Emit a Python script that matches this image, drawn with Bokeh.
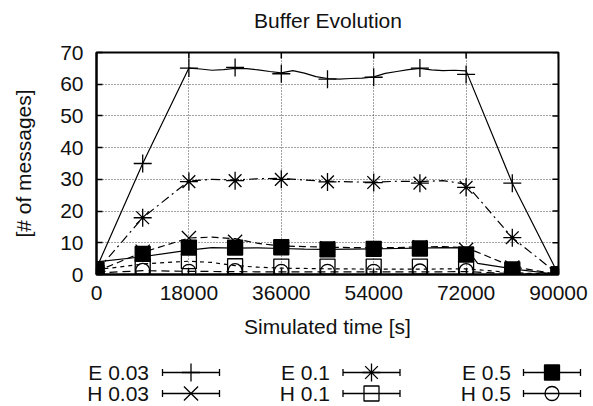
from bokeh.plotting import figure
from bokeh.models import Range1d, FixedTicker
from bokeh.layouts import column
from bokeh.embed import file_html
from bokeh.resources import INLINE
from bokeh.core.properties import value

FONT = "Liberation Sans"
TXT = "#111111"
FS = "21px"

# ---------------- data ----------------
TITLE = "Buffer Evolution"
X_LABEL = "Simulated time [s]"
Y_LABEL = "[# of messages]"
X_TICKS = [0, 18000, 36000, 54000, 72000, 90000]
Y_TICKS = [0, 10, 20, 30, 40, 50, 60, 70]

MARK_T = [0, 9000, 18000, 27000, 36000, 45000, 54000, 63000, 72000, 81000, 90000]

E003_MARK = [2.0, 35.0, 65.1, 65.3, 63.3, 61.6, 62.2, 65.1, 63.1, 28.8, 0.0]
E01_MARK = [1.0, 17.9, 29.3, 29.6, 30.0, 29.2, 29.0, 28.8, 27.5, 11.6, 0.0]
E05_MARK = [1.6, 6.5, 8.5, 8.5, 8.6, 7.9, 8.1, 8.2, 6.3, 1.6, 0.0]
H003_MARK = [1.0, 7.2, 11.5, 10.3, 8.6, 8.3, 8.0, 8.6, 7.8, 2.2, 0.0]
H01_MARK = [0.5, 2.5, 4.2, 2.6, 2.5, 2.5, 2.5, 2.5, 2.0, 0.3, 0.0]
H05_MARK = [0.3, 1.3, 1.0, 1.2, 1.0, 1.0, 1.0, 1.1, 1.2, 0.2, 0.0]

E003_LINE_T = [0, 9000, 18000, 20250, 22500, 24750, 27000, 29250, 31500, 33750,
               36000, 38250, 40500, 42750, 45000, 47250, 49500, 51750, 54000,
               56250, 58500, 60750, 63000, 65250, 67500, 69750, 72000, 81000, 90000]
E003_LINE = [2.0, 35.0, 65.1, 64.8, 64.4, 64.6, 65.0, 64.9, 64.5, 64.0,
             63.6, 64.3, 63.5, 62.4, 61.8, 61.6, 61.8, 61.9, 62.3,
             63.4, 64.0, 64.6, 65.0, 64.5, 64.3, 64.4, 64.2, 28.8, 0.0]

E01_LINE_T = [0, 9000, 18000, 22500, 27000, 31500, 36000, 40500, 45000, 49500,
              54000, 58500, 63000, 67500, 72000, 81000, 90000]
E01_LINE = [1.0, 17.9, 29.5, 30.0, 29.8, 30.2, 30.3, 29.8, 29.4, 29.2,
            29.1, 29.4, 29.3, 29.6, 28.5, 11.6, 0.0]

E05_LINE_T = [0, 9000, 18000, 22500, 27000, 31500, 36000, 40500, 45000, 49500,
              54000, 58500, 63000, 67500, 72000, 74250, 81000, 90000]
E05_LINE = [4.0, 5.6, 7.7, 8.5, 8.3, 8.4, 8.2, 8.0, 7.9, 8.0,
            8.1, 8.2, 8.3, 8.5, 8.4, 3.5, 1.8, 0.0]

H003_LINE_T = [0, 9000, 18000, 22500, 27000, 31500, 36000, 40500, 45000, 49500,
               54000, 58500, 63000, 67500, 72000, 81000, 90000]
H003_LINE = [1.0, 7.0, 11.5, 11.8, 11.3, 9.8, 9.0, 8.8, 8.6, 8.5,
             8.4, 8.5, 8.7, 8.8, 8.5, 2.5, 0.0]

H01_LINE_T = [0, 9000, 18000, 22500, 27000, 31500, 36000, 45000, 54000, 63000,
              72000, 81000, 90000]
H01_LINE = [1.5, 3.3, 4.2, 3.8, 2.8, 2.3, 2.0, 1.8, 1.7, 1.7, 1.8, 0.6, 0.0]

H05_LINE_T = [0, 9000, 18000, 27000, 36000, 45000, 54000, 63000, 72000, 81000, 90000]
H05_LINE = [0.5, 1.2, 1.0, 0.9, 0.8, 0.8, 0.8, 0.8, 0.9, 0.3, 0.0]

NAMES = ["E 0.03", "E 0.1", "E 0.5", "H 0.03", "H 0.1", "H 0.5"]

# ---------------- styles ----------------
STYLE = {
    "E 0.03": dict(marker="cross", size=18, fill=None, dash="solid"),
    "E 0.1": dict(marker="asterisk", size=18, fill=None, dash="9 4 2 4"),
    "E 0.5": dict(marker="square", size=15, fill="black", dash="solid"),
    "H 0.03": dict(marker="x", size=20, fill=None, dash="7 4"),
    "H 0.1": dict(marker="square", size=15, fill=None, dash="4 4"),
    "H 0.5": dict(marker="circle", size=14, fill=None, dash="8 5"),
}
SERIES = {
    "E 0.03": (E003_LINE_T, E003_LINE, E003_MARK),
    "E 0.1": (E01_LINE_T, E01_LINE, E01_MARK),
    "E 0.5": (E05_LINE_T, E05_LINE, E05_MARK),
    "H 0.03": (H003_LINE_T, H003_LINE, H003_MARK),
    "H 0.1": (H01_LINE_T, H01_LINE, H01_MARK),
    "H 0.5": (H05_LINE_T, H05_LINE, H05_MARK),
}

W = 593
TITLE_H, MAIN_H, LEG_H = 30, 315, 61


def panel(height, y_top):
    """A bare figure whose frame is the whole panel, in page-pixel coordinates."""
    f = figure(width=W, height=height, output_backend="svg", toolbar_location=None,
               x_range=Range1d(0, W), y_range=Range1d(y_top + height, y_top),
               min_border=0, min_border_left=0, min_border_right=0,
               min_border_top=0, min_border_bottom=0,
               x_axis_location=None, y_axis_location=None,
               outline_line_color=None, background_fill_color="white",
               border_fill_color="white", frame_align=False)
    f.grid.visible = False
    return f


# ---------------- title panel ----------------
tp = panel(TITLE_H, 0)
tp.text(x=[327.5], y=[19.5], text=[TITLE], text_font=value(FONT), text_font_size=FS,
        text_align="center", text_baseline="middle", text_color=TXT)

# ---------------- main plot ----------------
BL, BR, BT, BB = 96, 35, 22, 71
X0, X1, Y0, Y1 = 0, 90000, 0, 70
p = figure(width=W, height=MAIN_H, output_backend="svg", toolbar_location=None,
           x_range=Range1d(X0, X1), y_range=Range1d(Y0, Y1),
           min_border_left=BL, min_border_right=BR, min_border_top=BT,
           min_border_bottom=BB, background_fill_color="white",
           border_fill_color="white", frame_align=False)

p.outline_line_color = "black"
p.outline_line_width = 2
p.outline_line_alpha = 1.0

for ax, ticks in ((p.xaxis[0], X_TICKS), (p.yaxis[0], Y_TICKS)):
    ax.ticker = FixedTicker(ticks=ticks)
    ax.major_label_text_font = FONT
    ax.major_label_text_font_size = FS
    ax.major_label_text_color = TXT
    ax.axis_label_text_font = FONT
    ax.axis_label_text_font_size = FS
    ax.axis_label_text_font_style = "normal"
    ax.axis_label_text_color = TXT
    ax.major_tick_in = 6
    ax.major_tick_out = 0
    ax.major_tick_line_width = 1.5
    ax.minor_tick_line_color = None
    ax.axis_line_width = 2

p.xaxis.axis_label = X_LABEL
p.yaxis.axis_label = Y_LABEL
p.xaxis.major_label_standoff = 11
p.xaxis.axis_label_standoff = 12
p.yaxis.major_label_standoff = 13
p.yaxis.axis_label_standoff = 22

p.xgrid.ticker = FixedTicker(ticks=X_TICKS)
p.ygrid.ticker = FixedTicker(ticks=Y_TICKS)
for g in (p.xgrid[0], p.ygrid[0]):
    g.grid_line_color = "#333333"
    g.grid_line_dash = "1 2"
    g.grid_line_width = 1
    g.grid_line_alpha = 0.9

# mirror (inward) ticks on the top and right frame edges
TICK_PX = 6.0
fw, fh = W - BL - BR, MAIN_H - BT - BB
dy = (Y1 - Y0) * TICK_PX / fh
dx = (X1 - X0) * TICK_PX / fw
p.segment(x0=X_TICKS, y0=[Y1] * len(X_TICKS), x1=X_TICKS, y1=[Y1 - dy] * len(X_TICKS),
          line_color="black", line_width=1.5)
p.segment(x0=[X1] * len(Y_TICKS), y0=Y_TICKS, x1=[X1 - dx] * len(Y_TICKS), y1=Y_TICKS,
          line_color="black", line_width=1.5)

for name in NAMES:
    lt, lv, mv = SERIES[name]
    st = STYLE[name]
    p.line(lt, lv, line_color="black", line_width=1.2, line_dash=st["dash"])

for name in NAMES:
    lt, lv, mv = SERIES[name]
    st = STYLE[name]
    p.scatter(MARK_T, mv, marker=st["marker"], size=st["size"], line_color="black",
              line_width=1.3, fill_color=st["fill"] if st["fill"] else None)

# ---------------- legend panel ----------------
lg = panel(LEG_H, TITLE_H + MAIN_H)

COL_TEXT_RIGHT = [148.5, 329.5, 510.5]
COL_SAMPLE_START = [162.0, 342.5, 523.0]
ROW_Y = [372.0, 393.0]
SAMPLE_LEN = 57.0
CAP = 3.5

for i, name in enumerate(NAMES):
    r, c = divmod(i, 3)
    y = ROW_Y[r]
    tx = COL_TEXT_RIGHT[c]
    s0 = COL_SAMPLE_START[c]
    s1 = s0 + SAMPLE_LEN
    st = STYLE[name]
    lg.text(x=[tx], y=[y], text=[name], text_font=value(FONT), text_font_size=FS,
            text_align="right", text_baseline="middle", text_color=TXT)
    lg.segment(x0=[s0, s0, s1], y0=[y, y - CAP, y - CAP], x1=[s1, s0, s1],
               y1=[y, y + CAP, y + CAP], line_color="black", line_width=1.3)
    lg.scatter([s0 + SAMPLE_LEN / 2], [y], marker=st["marker"], size=st["size"],
               line_color="black", line_width=1.3,
               fill_color=st["fill"] if st["fill"] else None)

layout = column(tp, p, lg, spacing=0)
open("out.html", "w").write(file_html(layout, INLINE))
